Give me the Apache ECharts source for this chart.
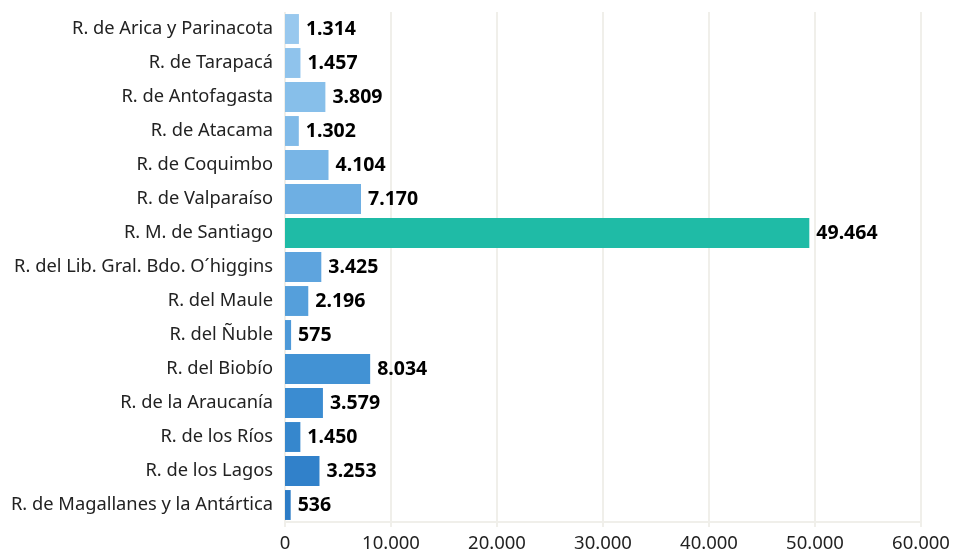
<!DOCTYPE html>
<html>
<head>
	<meta charset="UTF-8">
	<title>Regiones</title>
	<style>
		html, body { margin: 0; padding: 0; background: #fff; }
		#display { width: 961px; height: 553px; }
	</style>
</head>
<body>
	<div id="display"></div>
	<script src="https://cdn.jsdelivr.net/npm/echarts@6/dist/echarts.min.js"></script>
	<script>
		var regiones = [
			'R. de Arica y Parinacota', 'R. de Tarapacá', 'R. de Antofagasta', 'R. de Atacama',
			'R. de Coquimbo', 'R. de Valparaíso', 'R. M. de Santiago', 'R. del Lib. Gral. Bdo. O´higgins',
			'R. del Maule', 'R. del Ñuble', 'R. del Biobío', 'R. de la Araucanía',
			'R. de los Ríos', 'R. de los Lagos', 'R. de Magallanes y la Antártica'
		];
		var valores = [1314, 1457, 3809, 1302, 4104, 7170, 49464, 3425, 2196, 575, 8034, 3579, 1450, 3253, 536];
		var colores = ['#98c8ee', '#8fc3ec', '#87bfea', '#80bae8', '#78b5e6', '#6eafe3', '#1fbba6', '#5ea4de',
			'#559fdb', '#4d99d8', '#4292d4', '#3b8cd1', '#3687cd', '#3181ca', '#2d7cc6'];
		var ticks = [0, 10000, 20000, 30000, 40000, 50000, 60000];

		function fmt(v) {
			return String(v).replace(/\B(?=(\d{3})+(?!\d))/g, '.');
		}

		var myChart = echarts.init(document.getElementById('display'));
		myChart.setOption({
			animation: false,
			grid: { left: 285, right: 40, top: 12, bottom: 31 },
			xAxis: {
				type: 'value',
				min: ticks[0],
				max: ticks[ticks.length - 1],
				interval: 10000,
				axisLine: { show: true, lineStyle: { color: '#f0efea', width: 2 } },
				axisTick: { show: true, length: 5, lineStyle: { color: '#f0efea', width: 2 } },
				splitLine: { show: true, lineStyle: { color: '#f0efea', width: 2 } },
				axisLabel: {
					color: '#222', fontSize: 18.5, fontFamily: 'Noto Sans', margin: 12,
					formatter: function (v) { return fmt(v); }
				}
			},
			yAxis: {
				type: 'category',
				inverse: true,
				data: regiones,
				axisLine: { show: false },
				axisTick: { show: false },
				axisLabel: { color: '#222', fontSize: 18.3, fontFamily: 'Noto Sans', margin: 12 }
			},
			series: [{
				type: 'bar',
				barCategoryGap: '12%',
				data: valores.map(function (v, i) {
					return { value: v, itemStyle: { color: colores[i] } };
				}),
				label: {
					show: true,
					position: 'right',
					distance: 7,
					color: '#000',
					fontSize: 19.5,
					fontWeight: 'bold',
					fontFamily: 'Noto Sans',
					formatter: function (p) { return fmt(p.value); }
				}
			}]
		});
	</script>
</body>
</html>
